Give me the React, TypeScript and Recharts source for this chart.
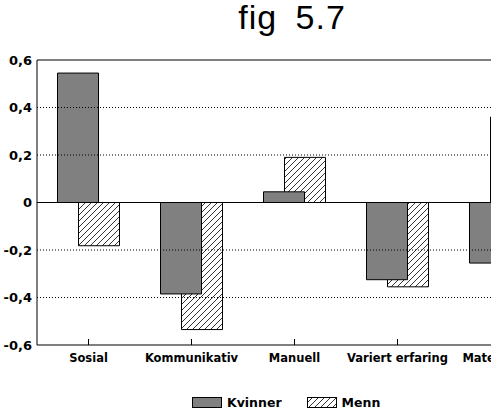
import React from 'react';
import {
  BarChart,
  Bar,
  XAxis,
  YAxis,
  ReferenceLine,
  Legend
} from 'recharts';

const categories = ['Sosial', 'Kommunikativ', 'Manuell', 'Variert erfaring', 'Matematisk'];
const kvinner = [0.545, -0.385, 0.045, -0.325, -0.255];
const menn = [-0.182, -0.535, 0.19, -0.355, 0.36];
const yTicks = [-0.6, -0.4, -0.2, 0, 0.2, 0.4, 0.6];
const gridValues = [-0.4, -0.2, 0.2, 0.4];

const data = categories.map((name, i) => ({ name, Kvinner: kvinner[i], Menn: menn[i] }));

const FONT = '"DejaVu Sans", sans-serif';

const fmt = (v: number) => (v === 0 ? '0' : v.toFixed(1).replace('.', ','));

const CategoryTick = (props: any) => {
  const { x, y, payload } = props;
  return (
    <g>
      <line x1={x} x2={x} y1={y - 6} y2={y} stroke="#000" />
      <text
        x={x}
        y={y + 17}
        textAnchor="middle"
        fontFamily={FONT}
        fontWeight="bold"
        fontSize={11.5}
        fill="#000"
      >
        {payload.value}
      </text>
    </g>
  );
};

const LegendContent = (props: any) => {
  const items = [...(props.payload || [])].sort((a: any, b: any) => (a.value > b.value ? 1 : -1));
  return (
    <div style={{ display: 'flex', alignItems: 'center', height: 30, paddingTop: 10, boxSizing: 'border-box' }}>
      {items.map((it: any) => (
        <div key={it.value} style={{ display: 'flex', alignItems: 'center', marginRight: 25 }}>
          <svg width={30} height={11} style={{ display: 'block' }}>
            <rect x={0.5} y={0.5} width={29} height={10} fill={it.payload.fill} stroke="#000" />
          </svg>
          <span style={{ marginLeft: 5, fontFamily: FONT, fontWeight: 'bold', fontSize: 12.5, color: '#000' }}>
            {it.value}
          </span>
        </div>
      ))}
    </div>
  );
};

export default function App() {
  return (
    <div style={{ position: 'fixed', top: 0, left: 0, width: 491, height: 412, overflow: 'hidden', background: '#fff' }}>
      <div
        style={{
          position: 'absolute',
          top: 0,
          left: 0,
          width: 491,
          paddingLeft: 93,
          boxSizing: 'border-box',
          textAlign: 'center',
          fontFamily: '"Liberation Sans", Arial, sans-serif',
          fontSize: 34,
          lineHeight: '34px',
          letterSpacing: 1,
          wordSpacing: 8,
          color: '#000'
        }}
      >
        fig 5.7
      </div>
      <BarChart width={600} height={412} data={data} margin={{ top: 60, right: 48, left: 0, bottom: 0 }}>
        <defs>
          <pattern id="hatch" patternUnits="userSpaceOnUse" width={6} height={6}>
            <rect width={6} height={6} fill="#fff" />
            <path d="M0,6 L6,0 M-1,1 L1,-1 M5,7 L7,5" stroke="#000" strokeWidth={0.8} />
          </pattern>
        </defs>
        <XAxis
          dataKey="name"
          height={37}
          axisLine={{ stroke: '#000' }}
          tickLine={false}
          tickSize={0}
          tickMargin={0}
          interval={0}
          tick={<CategoryTick />}
        />
        <XAxis xAxisId="k" dataKey="name" hide padding={{ left: -10.5, right: 10.5 }} />
        <XAxis xAxisId="m" dataKey="name" hide padding={{ left: 10.5, right: -10.5 }} />
        <YAxis
          width={37}
          domain={[-0.6, 0.6]}
          ticks={yTicks}
          interval={0}
          tickFormatter={fmt}
          axisLine={{ stroke: '#000' }}
          tickLine={false}
          tickSize={0}
          tickMargin={5}
          tick={{ fill: '#000', fontFamily: FONT, fontWeight: 'bold', fontSize: 13 }}
        />
        {gridValues.map(v => (
          <ReferenceLine key={v} y={v} stroke="#000" strokeDasharray="1 2" />
        ))}
        <ReferenceLine y={0.6} stroke="#000" />
        <Bar
          xAxisId="m"
          dataKey="Menn"
          barSize={41}
          fill="url(#hatch)"
          stroke="#000"
          strokeWidth={1}
          isAnimationActive={false}
        />
        <Bar
          xAxisId="k"
          dataKey="Kvinner"
          barSize={41}
          fill="#808080"
          stroke="#000"
          strokeWidth={1}
          isAnimationActive={false}
        />
        <ReferenceLine y={0} stroke="#000" />
        <Legend
          verticalAlign="bottom"
          height={30}
          content={<LegendContent />}
          wrapperStyle={{ left: 192, bottom: 0, width: 'auto' }}
        />
      </BarChart>
    </div>
  );
}
